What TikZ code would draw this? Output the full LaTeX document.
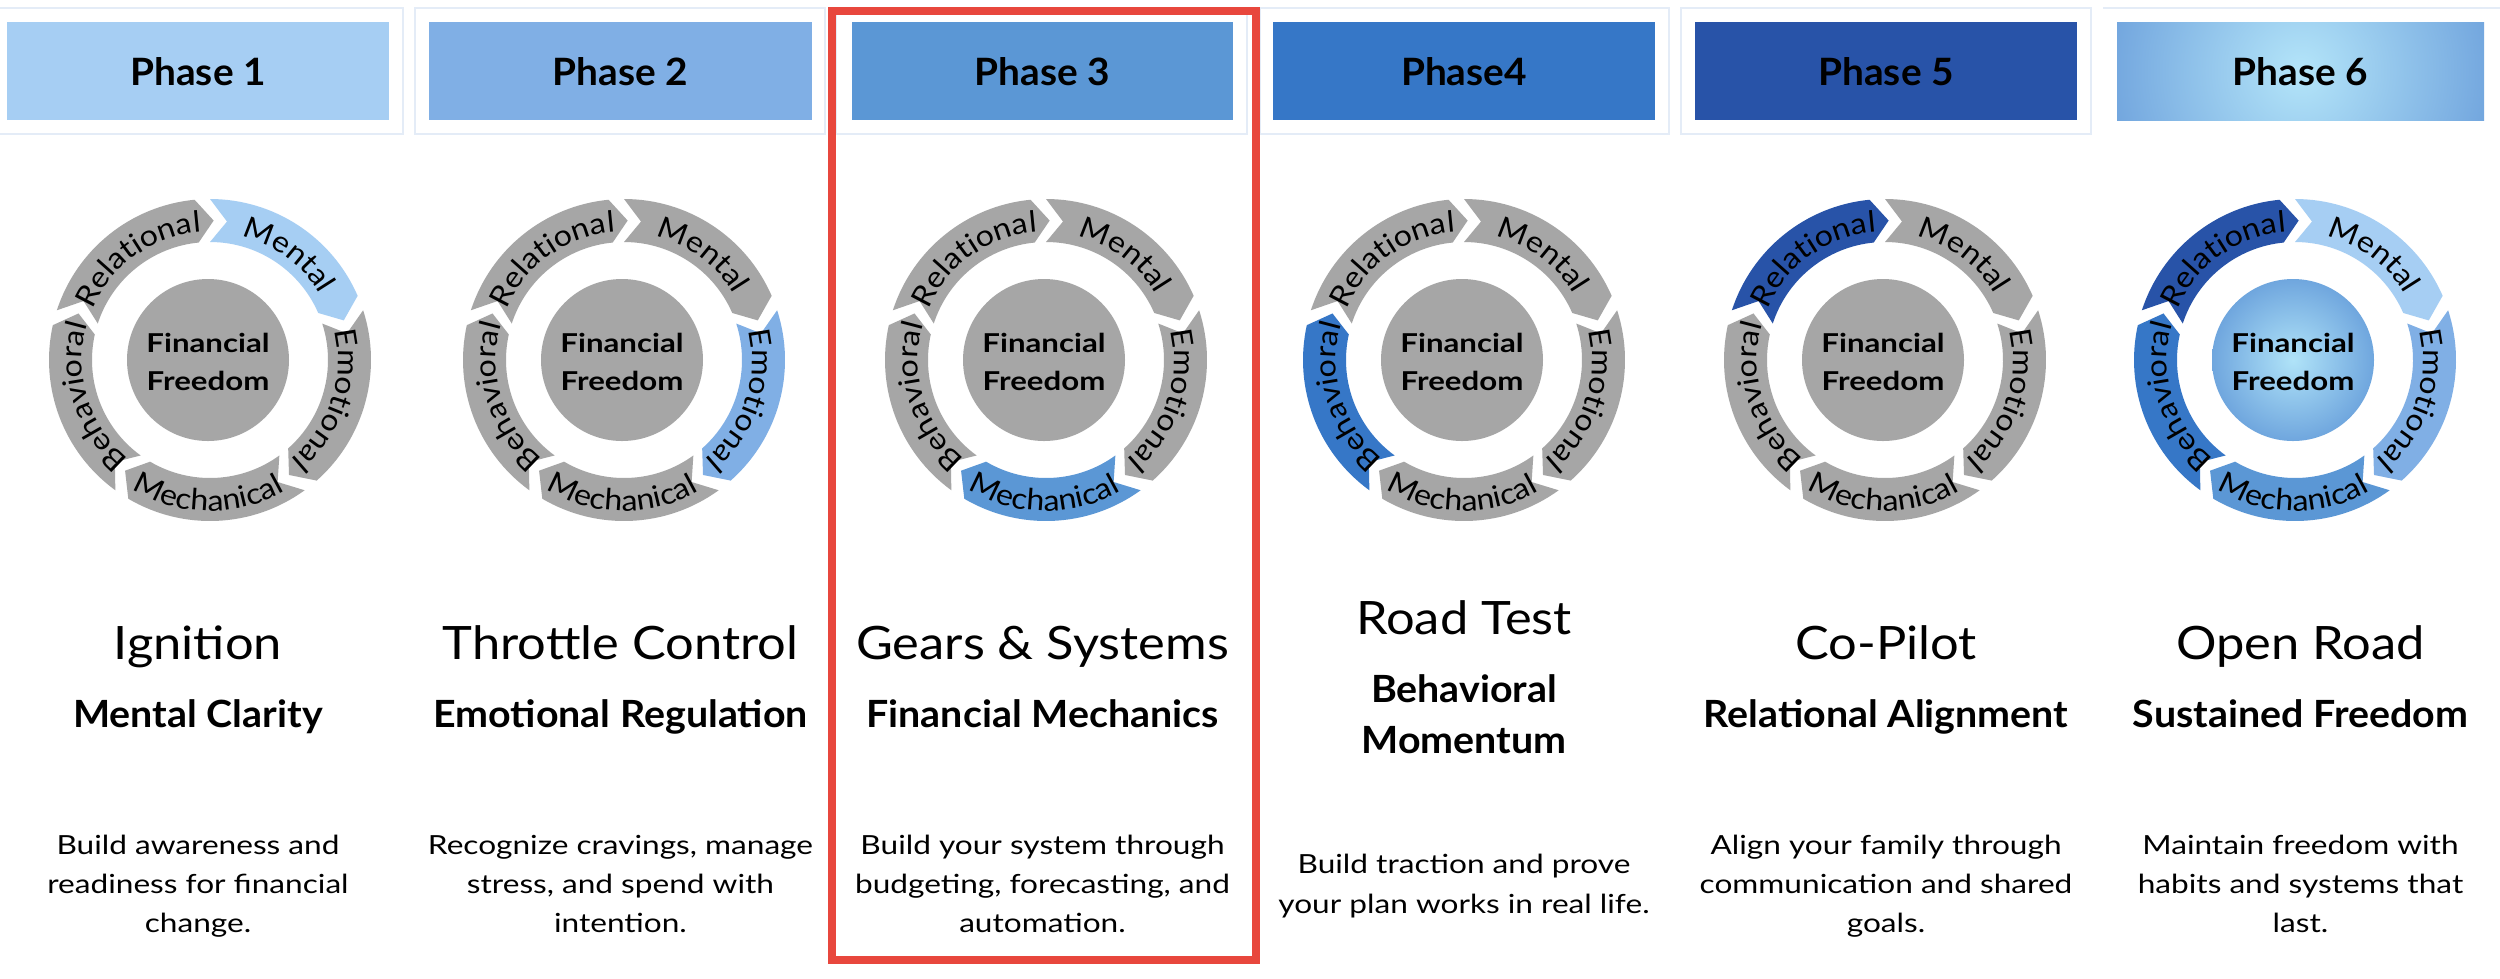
\documentclass[tikz,border=0pt]{standalone}
\usepackage{fontspec}
\usetikzlibrary{decorations.text}
\newfontfamily\hdrfam[FakeStretch=1.03]{Lato}
\newfontfamily\ttlfam[FakeStretch=1.1]{Lato}
\newfontfamily\subfam[FakeStretch=1.05]{Lato}
\newfontfamily\dscfam[FakeStretch=1.2]{Lato}
\newfontfamily\arcfam[FakeStretch=1.1]{Lato}
\newcommand\arclabfont{\arcfam\fontsize{8.8}{10}\selectfont}

\definecolor{cA}{HTML}{A6CEF3}
\definecolor{cB}{HTML}{80AFE5}
\definecolor{cC}{HTML}{5B97D5}
\definecolor{cD}{HTML}{3677C7}
\definecolor{cE}{HTML}{2853A8}
\definecolor{gr}{HTML}{A6A6A6}
\definecolor{panelc}{HTML}{E4ECF7}
\definecolor{redc}{HTML}{E8473D}
\definecolor{hlight}{HTML}{B4E5F9}
\definecolor{hdark}{HTML}{356BC5}
\definecolor{clight}{HTML}{B0E3F8}
\definecolor{cdark}{HTML}{3973C8}

\pgfdeclareradialshading{ctrsix}{\pgfpoint{0bp}{0bp}}{color(0bp)=(clight); color(46bp)=(cdark); color(50bp)=(cdark)}

% one chevron segment: #1 tail angle, #2 colour
\newcommand\seg[2]{%
  \pgfmathsetmacro\Ta{#1}%
  \pgfmathsetmacro\Hh{#1-73.5}%
  \pgfmathsetmacro\Hd{#1-66.5}%
  \pgfmathsetmacro\Tn{#1-7}%
  \fill[#2] (\Ta:161) arc[start angle=\Ta, end angle=\Hd, radius=161]
     -- (\Hh:139.5) -- (\Hd:118) arc[start angle=\Hd, end angle=\Ta, radius=118]
     -- (\Tn:139.5) -- cycle;}
\newcommand\cwlab[2]{%
  \path[decorate,decoration={text along path,text align=center,text={|\arclabfont|#2}}]
    ({#1+55}:128) arc[start angle={#1+55}, end angle={#1-55}, radius=128];}
\newcommand\ccwlab[2]{%
  \path[decorate,decoration={text along path,text align=center,text={|\arclabfont|#2}}]
    ({#1-55}:151) arc[start angle={#1-55}, end angle={#1+55}, radius=151];}
% #1 id, #2 cx, #3..#7 colours (Mental, Emotional, Mechanical, Behavioral, Relational), #8 centre fill
\newcommand\cycdiag[8]{%
  \begin{scope}[shift={(#2,-360)}]
    \seg{90}{#3}\seg{18}{#4}\seg{-54}{#5}\seg{-126}{#6}\seg{-198}{#7}
    \cwlab{53.25}{Mental}
    \cwlab{-18.75}{Emotional}
    \ccwlab{-90.75}{Mechanical}
    \cwlab{-162.75}{Behavioral}
    \cwlab{125.25}{Relational}
    \path[#8] (-2,0) circle[radius=81];
    \node[ff] (ffa#1) at (-2,8) {Financial};
    \node[ff] (ffb#1) at (-2,-30) {Freedom};
  \end{scope}}

\begin{document}
\begin{tikzpicture}[x=0.3pt,y=0.3pt,
  panel/.style={draw=panelc, line width=0.6pt},
  hdr/.style={font=\hdrfam\bfseries\fontsize{11.3}{13}\selectfont, anchor=base, inner sep=0},
  ttl/.style={font=\ttlfam\fontsize{13.8}{16}\selectfont, anchor=base, inner sep=0},
  sub/.style={font=\subfam\bfseries\fontsize{11.25}{14}\selectfont, anchor=base, inner sep=0},
  dsc/.style={font=\dscfam\fontsize{7.9}{11.7}\selectfont, anchor=base, inner sep=0},
  ff/.style={font=\dscfam\bfseries\fontsize{7.8}{9}\selectfont, anchor=base, inner sep=0},
  redframe/.style={draw=redc, line width=2.4pt}]
\useasboundingbox (0,0) rectangle (2500,-978);
\fill[white] (0,0) rectangle (2500,-978);

% header panels
\foreach \a/\b in {-7/403, 415/825, 836/1247, 1260/1669, 1681/2091}
  \draw[panel] (\a,-8) rectangle (\b,-134);
\draw[panel] (2103,-8) -- (2510,-8);

% header boxes
\fill[cA] (7,-22) rectangle (389,-120);
\fill[cB] (429,-22) rectangle (812,-120);
\fill[cC] (852,-22) rectangle (1233,-120);
\fill[cD] (1273,-22) rectangle (1655,-120);
\fill[cE] (1695,-22) rectangle (2077,-120);
\begin{scope}
  \clip (2117,-22) rectangle (2484,-120);
  \shade[inner color=hlight, outer color=hdark] (1930.5,-441) rectangle (2670.5,299);
\end{scope}
\node[hdr] (h1) at (198,-85) {Phase 1};
\node[hdr] (h2) at (620.5,-85) {Phase 2};
\node[hdr] (h3) at (1042.5,-85) {Phase 3};
\node[hdr] (h4) at (1464,-85) {Phase4};
\node[hdr] (h5) at (1886,-85) {Phase 5};
\node[hdr] (h6) at (2300.5,-85) {Phase 6};

% cycle diagrams
\cycdiag{1}{210}{cA}{gr}{gr}{gr}{gr}{fill=gr}
\cycdiag{2}{624}{gr}{cB}{gr}{gr}{gr}{fill=gr}
\cycdiag{3}{1046}{gr}{gr}{cC}{gr}{gr}{fill=gr}
\cycdiag{4}{1464}{gr}{gr}{gr}{cD}{gr}{fill=gr}
\cycdiag{5}{1885}{gr}{gr}{gr}{gr}{cE}{fill=gr}
\cycdiag{6}{2295}{cA}{cB}{cC}{cD}{cE}{shade,shading=ctrsix}

% titles
\node[ttl] (t1) at (198,-659) {Ignition};
\node[ttl] (t2) at (620.5,-659) {Throttle Control};
\node[ttl] (t3) at (1042.5,-659) {Gears \& Systems};
\node[ttl] (t4) at (1464,-634) {Road Test};
\node[ttl] (t5) at (1886,-659) {Co-Pilot};
\node[ttl] (t6) at (2300.5,-659) {Open Road};

% subtitles
\node[sub] (s1) at (198,-727) {Mental Clarity};
\node[sub] (s2) at (620.5,-727) {Emotional Regulation};
\node[sub] (s3) at (1042.5,-727) {Financial Mechanics};
\node[sub] (s4a) at (1464,-702) {Behavioral};
\node[sub] (s4b) at (1464,-753) {Momentum};
\node[sub] (s5) at (1886,-727) {Relational Alignment};
\node[sub] (s6) at (2300.5,-727) {Sustained Freedom};

% descriptions
\node[dsc] (d1a) at (198,-854) {Build awareness and};
\node[dsc] (d1b) at (198,-893) {readiness for financial};
\node[dsc] (d1c) at (198,-932) {change.};
\node[dsc] (d2a) at (620.5,-854) {Recognize cravings, manage};
\node[dsc] (d2b) at (620.5,-893) {stress, and spend with};
\node[dsc] (d2c) at (620.5,-932) {intention.};
\node[dsc] (d3a) at (1042.5,-854) {Build your system through};
\node[dsc] (d3b) at (1042.5,-893) {budgeting, forecasting, and};
\node[dsc] (d3c) at (1042.5,-932) {automation.};
\node[dsc] (d4a) at (1464,-873) {Build traction and prove};
\node[dsc] (d4b) at (1464,-913) {your plan works in real life.};
\node[dsc] (d5a) at (1886,-854) {Align your family through};
\node[dsc] (d5b) at (1886,-893) {communication and shared};
\node[dsc] (d5c) at (1886,-932) {goals.};
\node[dsc] (d6a) at (2300.5,-854) {Maintain freedom with};
\node[dsc] (d6b) at (2300.5,-893) {habits and systems that};
\node[dsc] (d6c) at (2300.5,-932) {last.};

% red highlight frame
\draw[redframe] (832,-11) rectangle (1256,-960);
\end{tikzpicture}
\end{document}
